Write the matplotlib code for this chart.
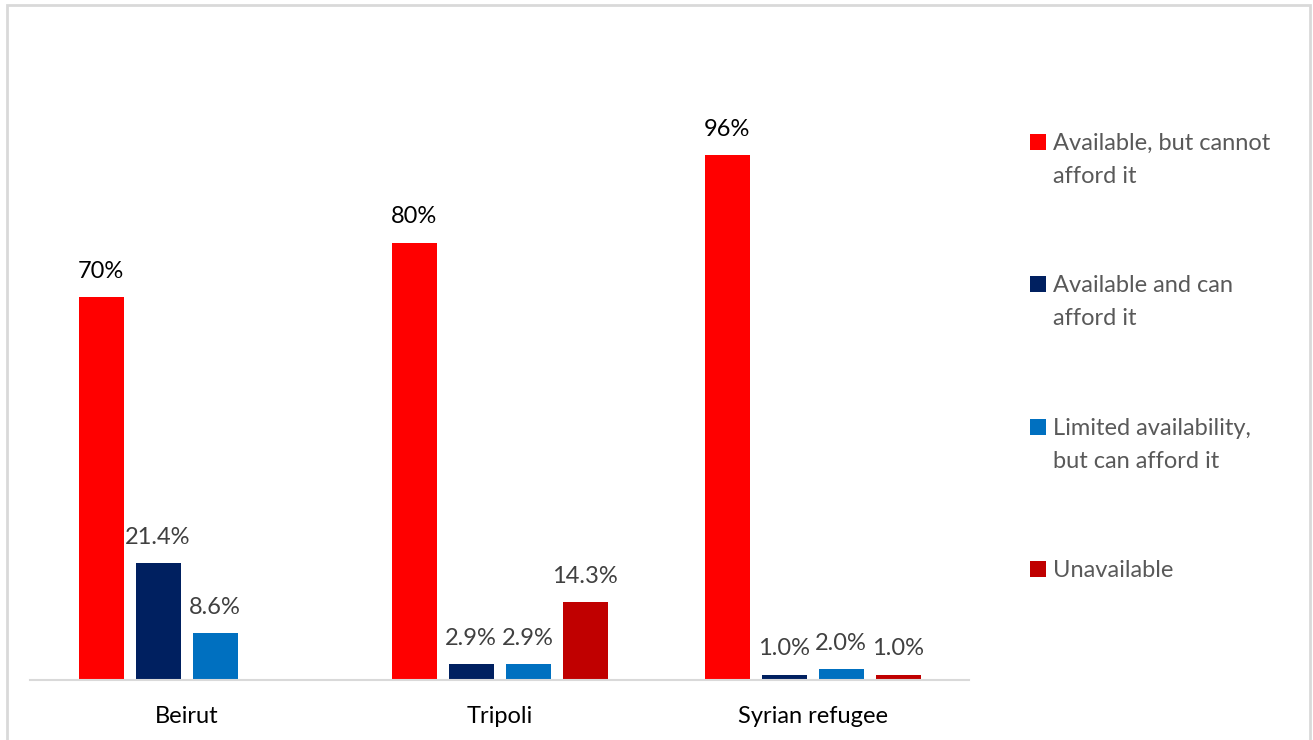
import matplotlib
matplotlib.use("Agg")
import matplotlib.pyplot as plt
from matplotlib.patches import Rectangle
import numpy as np

plt.rcParams['font.family'] = ['Lato', 'DejaVu Sans']

categories = ["Beirut", "Tripoli", "Syrian refugee"]
series_names = ["Available, but cannot\nafford it",
                "Available and can\nafford it",
                "Limited availability,\nbut can afford it",
                "Unavailable"]
available_cannot_afford = [70, 80, 96]
available_can_afford = [21.4, 2.9, 1.0]
limited_can_afford = [8.6, 2.9, 2.0]
unavailable = [0, 14.3, 1.0]
series_values = [available_cannot_afford, available_can_afford,
                 limited_can_afford, unavailable]
label_formats = ["{:.0f}%", "{:.1f}%", "{:.1f}%", "{:.1f}%"]
label_colors = ["#000000", "#404040", "#404040", "#404040"]
colors = ["#FF0000", "#002060", "#0070C0", "#C00000"]

fig = plt.figure(figsize=(13.13, 7.40), dpi=100)
W, H = 1313, 740
ax = fig.add_axes([30 / W, (740 - 680) / H, (969 - 30) / W, (680 - 24) / H])

x = np.arange(len(categories))
bw = 45 / 313
step = 57 / 313
for i, (vals, name, c) in enumerate(zip(series_values, series_names, colors)):
    pos = x + (i - 1.5) * step
    bars = ax.bar(pos, vals, width=bw, color=c, label=name)
    for b, v in zip(bars, vals):
        if v == 0:
            continue
        ax.annotate(label_formats[i].format(v),
                    (b.get_x() + b.get_width() / 2, v),
                    xytext=(0, 11), textcoords="offset points",
                    ha="center", va="bottom", fontsize=17,
                    color=label_colors[i])

ax.set_xlim(-0.5, 2.5)
ax.set_ylim(0, 120)
ax.set_xticks(x)
ax.set_xticklabels(categories, fontsize=17, color="#000000")
ax.tick_params(axis="x", length=0, pad=19)
ax.set_yticks([])
for s in ["top", "right", "left"]:
    ax.spines[s].set_visible(False)
ax.spines["bottom"].set_color("#D9D9D9")
ax.spines["bottom"].set_linewidth(1.5)

# Legend drawn manually (square aligned with first text line)
legend_rows_y = [142, 284, 427, 569]
for name, c, yy in zip(series_names, colors, legend_rows_y):
    fig.patches.append(Rectangle((1030 / W, 1 - (yy + 8) / H), 16 / W, 16 / H,
                                 transform=fig.transFigure, facecolor=c,
                                 edgecolor="none"))
    fig.text(1053 / W, 1 - (yy - 9) / H, name, ha="left", va="top",
             fontsize=17, color="#595959", linespacing=1.72)

fig.patches.append(Rectangle((7 / W, -0.1), (1310 - 7) / W, 1.1 - 5 / H,
                             transform=fig.transFigure, fill=False,
                             edgecolor="#D9D9D9", linewidth=2))

fig.savefig("out.png", dpi=100)
